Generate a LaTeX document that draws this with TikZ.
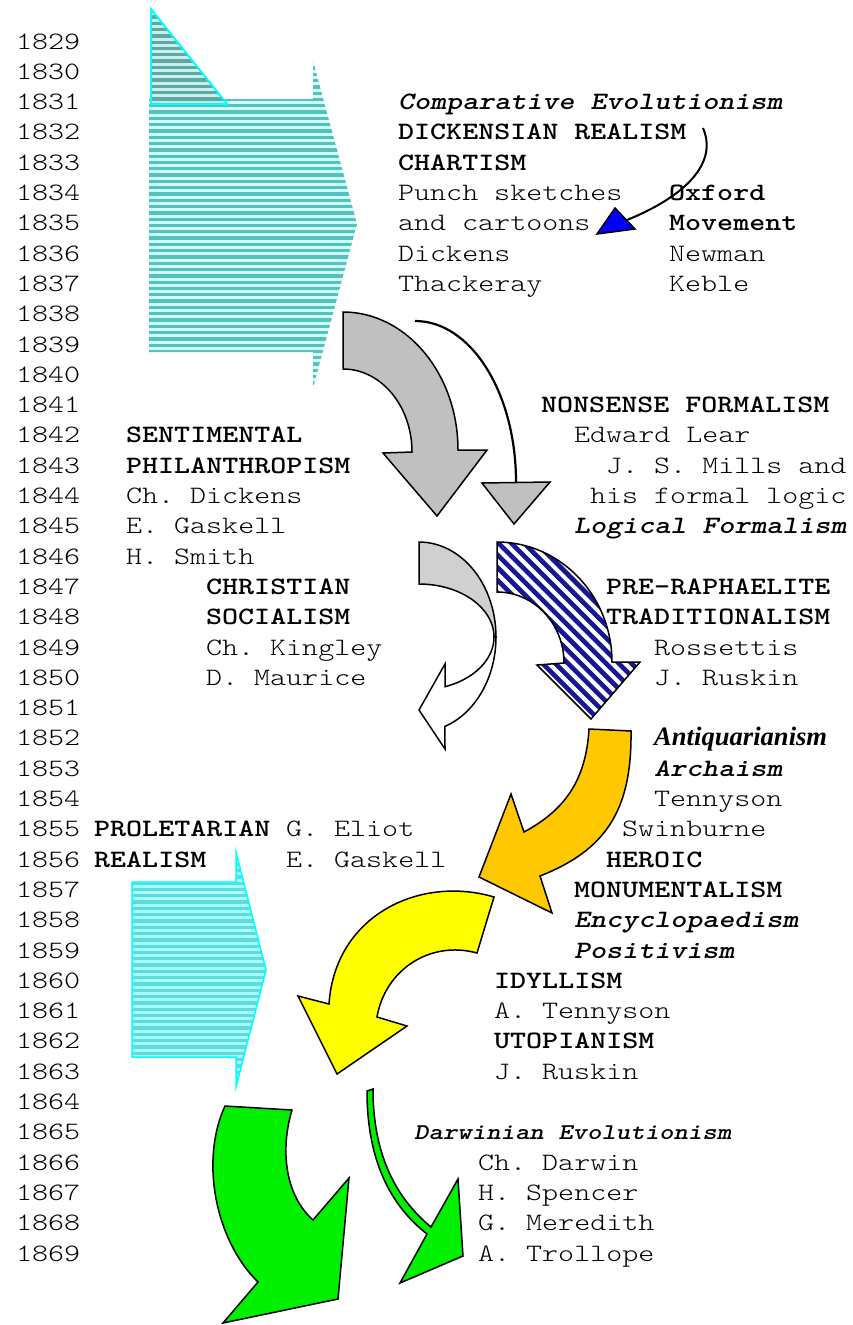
\documentclass[tikz,border=0pt]{standalone}
\usepackage{fontspec}
\setmonofont[Extension=.otf,
  UprightFont=lmmonolt10-regular,
  BoldFont=lmmonolt10-bold,
  ItalicFont=lmmonolt10-oblique,
  BoldItalicFont=lmmonolt10-boldoblique,
  FakeStretch=1.22]{lmmonolt10-regular}
\newfontfamily\timesbi{Liberation Serif}
\newcommand\rowy[1]{49+30.3*#1}
\definecolor{tealdark}{RGB}{84,194,188}
\definecolor{teallight}{RGB}{208,252,250}
\definecolor{trisdark}{RGB}{96,168,160}
\definecolor{trislight}{RGB}{200,240,238}
\definecolor{cyandark}{RGB}{96,218,218}
\definecolor{cyanlight}{RGB}{165,255,255}
\definecolor{cyanline}{RGB}{0,255,255}
\definecolor{navystripe}{RGB}{22,22,150}
\definecolor{grayfill}{RGB}{192,192,192}
\definecolor{lightgrayfill}{RGB}{208,208,208}
\definecolor{orangefill}{RGB}{255,200,0}
\definecolor{yellowfill}{RGB}{255,255,0}
\definecolor{greenfill}{RGB}{0,240,0}
\definecolor{bluefill}{RGB}{0,0,255}
\begin{document}
\begin{tikzpicture}[x=1pt,y=-1pt,
  txt/.style={anchor=base west, inner sep=0pt, font=\ttfamily\fontsize{25}{30}\selectfont},
  bld/.style={anchor=base west, inner sep=0pt, font=\ttfamily\bfseries\fontsize{25}{30}\selectfont},
  bit/.style={anchor=base west, inner sep=0pt, font=\ttfamily\bfseries\itshape\fontsize{25}{30}\selectfont},
  arrowshape/.style={draw=black, line width=1.5pt, line join=miter},
]
\useasboundingbox (0,0) rectangle (852,1325);

% ---------- striped block arrow, 1829-1840 ----------
\begin{scope}
  \clip (149,99) -- (313,99) -- (313,61) -- (357,224) -- (313,388) -- (313,352) -- (149,352) -- cycle;
  \fill[teallight] (140,55) rectangle (360,392);
  \foreach \i in {0,...,54} \fill[tealdark] (140,{60+6.3*\i}) rectangle (360,{60+6.3*\i+3.3});
\end{scope}
% small triangle in its corner
\begin{scope}
  \clip (151,9) -- (151,104) -- (227,104) -- cycle;
  \fill[trislight] (145,5) rectangle (230,108);
  \foreach \i in {0,...,16} \fill[trisdark] (145,{9+6.3*\i}) rectangle (230,{9+6.3*\i+3.3});
\end{scope}
\draw[cyanline, line width=2pt] (151,9) -- (151,104) -- (227,104) -- cycle;

% ---------- blue arrow from DICKENSIAN REALISM ----------
\draw[line width=2pt] (703,128) .. controls (715,155) and (700,190) .. (627,220);
\draw[arrowshape, fill=bluefill] (615,208) -- (635,229) -- (597,234) -- cycle;

% ---------- gray curved arrow ----------
\draw[arrowshape, fill=grayfill] (343,312) .. controls (406.5,312) and (458,374) .. (458,450)
  -- (487,450) -- (437,516) -- (383,453) -- (412,452)
  .. controls (412,406) and (381,369) .. (343,369) -- cycle;

% ---------- thin curved arrow ----------
\draw[line width=2.2pt] (415,321) .. controls (471,321) and (516,393) .. (516,482);
\draw[arrowshape, fill=grayfill] (482,483) -- (550,482) -- (514,524) -- cycle;

% ---------- turning arrow (gray back, white front) ----------
\draw[arrowshape, fill=lightgrayfill] (419,542)
  -- plot[domain=90:0, samples=30, variable=\t] ({419+77*cos(\t)},{637-95*sin(\t)})
  -- (494,637)
  -- plot[domain=0:90, samples=30, variable=\t] ({419+75*cos(\t)},{637-53*sin(\t)})
  -- cycle;
\draw[arrowshape, fill=white] (496,637)
  -- plot[domain=0:-70.3, samples=30, variable=\t] ({419+77*cos(\t)},{637-95*sin(\t)})
  -- (445,749) -- (419,710) -- (445,664)
  -- plot[domain=-69.7:0, samples=30, variable=\t] ({419+75*cos(\t)},{637-53*sin(\t)})
  -- cycle;

% ---------- blue striped curved arrow ----------
\begin{scope}
  \clip (497,542) .. controls (560.5,542) and (612,595.8) .. (612,662)
    -- (640,662) -- (591,719) -- (537,665) -- (564,663)
    .. controls (564,623.8) and (534,592) .. (497,592) -- cycle;
  \fill[white] (490,535) rectangle (645,725);
  \foreach \s in {-20,...,20} \draw[navystripe, line width=4.6pt] ({560+12.7*\s-200},430) -- ++(400,400);
\end{scope}
\draw[arrowshape] (497,542) .. controls (560.5,542) and (612,595.8) .. (612,662)
  -- (640,662) -- (591,719) -- (537,665) -- (564,663)
  .. controls (564,623.8) and (534,592) .. (497,592) -- cycle;

% ---------- orange curved arrow ----------
\draw[arrowshape, fill=orangefill] (589,729) -- (631,731)
  .. controls (632,810) and (606,850) .. (540,876)
  -- (552,913) -- (479,877) -- (511,794) -- (524,832)
  .. controls (565,810) and (586,780) .. (589,729) -- cycle;

% ---------- yellow curved arrow ----------
\draw[arrowshape, fill=yellowfill] (494,897)
  .. controls (420,875) and (335,915) .. (329,1004)
  -- (298,996) -- (337,1074) -- (407,1026) -- (377,1017)
  .. controls (385,970) and (430,940) .. (477,953)
  -- cycle;

% ---------- striped block arrow, 1856-1864 ----------
\begin{scope}
  \clip (132,882) -- (236,882) -- (236,852) -- (266,970) -- (236,1087) -- (236,1057) -- (132,1057) -- cycle;
  \fill[cyanlight] (125,845) rectangle (270,1092);
  \foreach \i in {0,...,40} \fill[cyandark] (125,{850+6.3*\i}) rectangle (270,{850+6.3*\i+3.3});
\end{scope}
\draw[cyanline, line width=1.5pt] (132,882) -- (236,882) -- (236,852) -- (266,970) -- (236,1087) -- (236,1057) -- (132,1057) -- cycle;

% ---------- green arrows ----------
\draw[arrowshape, fill=greenfill] (258,1282)
  .. controls (215,1240) and (200,1160) .. (225,1106)
  -- (292,1110)
  .. controls (280,1150) and (285,1195) .. (313,1220)
  -- (349,1178) -- (338,1299) -- (223,1323) -- cycle;
\draw[arrowshape, fill=greenfill] (367,1091)
  .. controls (367,1160) and (390,1205) .. (427,1234)
  -- (400,1283) -- (463,1256) -- (458,1179) -- (431,1227)
  .. controls (396,1198) and (373,1155) .. (373,1089)
  -- cycle;

% ---------- year column ----------
\foreach \k in {0,...,40} {
  \pgfmathtruncatemacro\yr{1829+\k}
  \node[txt] (yr\k) at (16,{\rowy{\k}}) {\yr};
}

% ---------- labels ----------
\node[bit] (compevo) at (398,{\rowy{2}}) {Comparative Evolutionism};
\node[bld] (dickreal) at (398,{\rowy{3}}) {DICKENSIAN REALISM};
\node[bld] (chartism) at (398,{\rowy{4}}) {CHARTISM};
\node[txt] (punch1) at (398,{\rowy{5}}) {Punch sketches};
\node[txt] (punch2) at (398,{\rowy{6}}) {and cartoons};
\node[txt] (dickens) at (398,{\rowy{7}}) {Dickens};
\node[txt] (thack) at (398,{\rowy{8}}) {Thackeray};
\node[bld] (oxford1) at (669,{\rowy{5}}) {Oxford};
\node[bld] (oxford2) at (669,{\rowy{6}}) {Movement};
\node[txt] (newman) at (669,{\rowy{7}}) {Newman};
\node[txt] (keble) at (669,{\rowy{8}}) {Keble};

\node[bld] (nonsense) at (541,{\rowy{12}}) {NONSENSE FORMALISM};
\node[txt] (lear) at (574,{\rowy{13}}) {Edward Lear};
\node[txt] (mills1) at (606,{\rowy{14}}) {J. S. Mills and};
\node[txt] (mills2) at (590,{\rowy{15}}) {his formal logic};
\node[bit] (logform) at (574,{\rowy{16}}) {Logical Formalism};

\node[bld] (senti1) at (126,{\rowy{13}}) {SENTIMENTAL};
\node[bld] (senti2) at (126,{\rowy{14}}) {PHILANTHROPISM};
\node[txt] (chdick) at (126,{\rowy{15}}) {Ch. Dickens};
\node[txt] (egask1) at (126,{\rowy{16}}) {E. Gaskell};
\node[txt] (hsmith) at (126,{\rowy{17}}) {H. Smith};

\node[bld] (chsoc1) at (206,{\rowy{18}}) {CHRISTIAN};
\node[bld] (chsoc2) at (206,{\rowy{19}}) {SOCIALISM};
\node[txt] (kingley) at (206,{\rowy{20}}) {Ch. Kingley};
\node[txt] (maurice) at (206,{\rowy{21}}) {D. Maurice};

\node[bld] (preraph1) at (606,{\rowy{18}}) {PRE-RAPHAELITE};
\node[bld] (preraph2) at (606,{\rowy{19}}) {TRADITIONALISM};
\node[txt] (rossettis) at (654,{\rowy{20}}) {Rossettis};
\node[txt] (ruskin1) at (654,{\rowy{21}}) {J. Ruskin};

\node[anchor=base west, inner sep=0pt, font=\timesbi\bfseries\itshape\fontsize{26.6}{30}\selectfont] (antiq) at (654,{\rowy{23}}) {Antiquarianism};
\node[bit] (archaism) at (654,{\rowy{24}}) {Archaism};
\node[txt] (tenn1) at (654,{\rowy{25}}) {Tennyson};
\node[txt] (swinb) at (622,{\rowy{26}}) {Swinburne};
\node[bld] (heroic1) at (606,{\rowy{27}}) {HEROIC};
\node[bld] (heroic2) at (574,{\rowy{28}}) {MONUMENTALISM};
\node[bit] (encyc) at (574,{\rowy{29}}) {Encyclopaedism};
\node[bit] (posit) at (574,{\rowy{30}}) {Positivism};

\node[bld] (prol1) at (94,{\rowy{26}}) {PROLETARIAN};
\node[bld] (prol2) at (94,{\rowy{27}}) {REALISM};
\node[txt] (eliot) at (286,{\rowy{26}}) {G. Eliot};
\node[txt] (egask2) at (286,{\rowy{27}}) {E. Gaskell};

\node[bld] (idyll) at (494,{\rowy{31}}) {IDYLLISM};
\node[txt] (tenn2) at (494,{\rowy{32}}) {A. Tennyson};
\node[bld] (utop) at (494,{\rowy{33}}) {UTOPIANISM};
\node[txt] (ruskin2) at (494,{\rowy{34}}) {J. Ruskin};

\node[anchor=base west, inner sep=0pt, font=\ttfamily\bfseries\itshape\fontsize{22.5}{28}\selectfont] (darwevo) at (414,{\rowy{36}}) {Darwinian Evolutionism};
\node[txt] (darwin) at (478,{\rowy{37}}) {Ch. Darwin};
\node[txt] (spencer) at (478,{\rowy{38}}) {H. Spencer};
\node[txt] (meredith) at (478,{\rowy{39}}) {G. Meredith};
\node[txt] (trollope) at (478,{\rowy{40}}) {A. Trollope};
\end{tikzpicture}
\end{document}
